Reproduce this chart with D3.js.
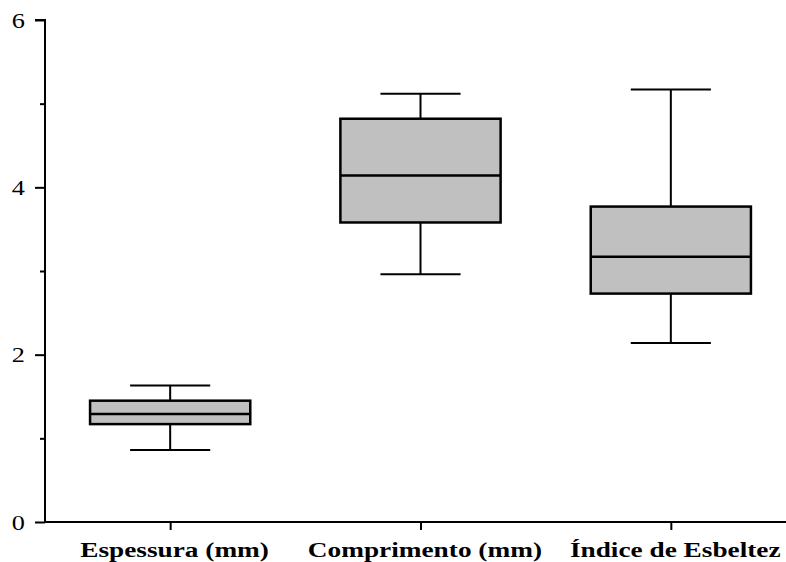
<!DOCTYPE html>
<html>
<head>
<meta charset="utf-8">
<script src="https://cdn.jsdelivr.net/npm/d3@7"></script>
<style>
  body { margin: 0; background: #fff; }
  svg { display: block; }
  text { font-family: 'Liberation Serif', 'DejaVu Serif', serif; }
</style>
</head>
<body>
<script>
'use strict';

// box statistics
const categories = ["Espessura (mm)", "Comprimento (mm)", "Índice de Esbeltez"];
const whiskerLow = [0.86, 2.96, 2.14];
const q1 = [1.17, 3.58, 2.73];
const median = [1.29, 4.14, 3.17];
const q3 = [1.45, 4.82, 3.77];
const whiskerHigh = [1.63, 5.12, 5.17];
const majorTicks = [0, 2, 4, 6];
const minorTicks = [1, 3, 5];

const width = 786, height = 562;
const serif = 'Liberation Serif';
const stretchX = 1.3; // the source picture is wider than it is tall

const svg = d3.select('body')
  .append('svg')
  .attr('width', width)
  .attr('height', height);

// scales
const x = d3.scalePoint()
  .domain(categories)
  .range([45, 796])
  .padding(0.5);

const y = d3.scaleLinear()
  .domain([0, 6])
  .range([522, 20]);

const step = x.step();
const boxW = step * 0.64;
const capW = step * 0.32;

const rows = categories.map((c, i) => ({
  cat: c, lo: whiskerLow[i], q1: q1[i], med: median[i], q3: q3[i], hi: whiskerHigh[i]
}));

// y axis
const yAxis = svg.append('g')
  .attr('transform', 'translate(45,0)')
  .call(d3.axisLeft(y).tickValues(majorTicks).tickSize(10).tickFormat(d3.format('d')))
  .attr('font-family', serif)
  .attr('font-size', 21);
yAxis.select('.domain').attr('stroke-width', 2).attr('d', 'M-10,' + y(6) + 'H0V' + y(0));
yAxis.selectAll('.tick line').attr('stroke-width', 2);
yAxis.selectAll('.tick text')
  .attr('x', -20 / 1.25)
  .attr('dy', '0.34em')
  .attr('transform', 'scale(1.25,1)')
  .attr('fill', '#000');

svg.append('g')
  .attr('transform', 'translate(45,0)')
  .call(d3.axisLeft(y).tickValues(minorTicks).tickSize(5).tickFormat(''))
  .call(g => g.select('.domain').remove())
  .call(g => g.selectAll('.tick line').attr('stroke-width', 2));

// x axis
const xAxis = svg.append('g')
  .attr('transform', 'translate(0,' + y(0) + ')')
  .call(d3.axisBottom(x).tickSize(8).tickSizeOuter(0))
  .attr('font-family', serif)
  .attr('font-size', 21)
  .attr('font-weight', 'bold');
xAxis.select('.domain').attr('stroke-width', 2).attr('d', 'M45,0H' + width);
xAxis.selectAll('.tick line').attr('stroke-width', 2);
xAxis.selectAll('.tick text')
  .attr('x', 3)
  .attr('y', 35)
  .attr('dy', 0)
  .attr('transform', 'scale(' + stretchX + ',1)')
  .attr('fill', '#000');

// boxes
const box = svg.selectAll('.box')
  .data(rows)
  .enter()
  .append('g')
  .attr('class', 'box')
  .attr('transform', d => 'translate(' + x(d.cat) + ',0)');

// whisker stems
box.append('line')
  .attr('x1', 0).attr('x2', 0)
  .attr('y1', d => y(d.hi)).attr('y2', d => y(d.lo))
  .attr('stroke', '#000').attr('stroke-width', 2);

// caps
box.selectAll('.cap')
  .data(d => [d.lo, d.hi])
  .enter()
  .append('line')
  .attr('x1', -capW / 2).attr('x2', capW / 2)
  .attr('y1', v => y(v)).attr('y2', v => y(v))
  .attr('stroke', '#000').attr('stroke-width', 2);

box.append('rect')
  .attr('x', -boxW / 2)
  .attr('width', boxW)
  .attr('y', d => y(d.q3))
  .attr('height', d => y(d.q1) - y(d.q3))
  .attr('fill', '#c0c0c0')
  .attr('stroke', '#000')
  .attr('stroke-width', 2.5);

box.append('line')
  .attr('x1', -boxW / 2).attr('x2', boxW / 2)
  .attr('y1', d => y(d.med)).attr('y2', d => y(d.med))
  .attr('stroke', '#000').attr('stroke-width', 2.5);
</script>
</body>
</html>
